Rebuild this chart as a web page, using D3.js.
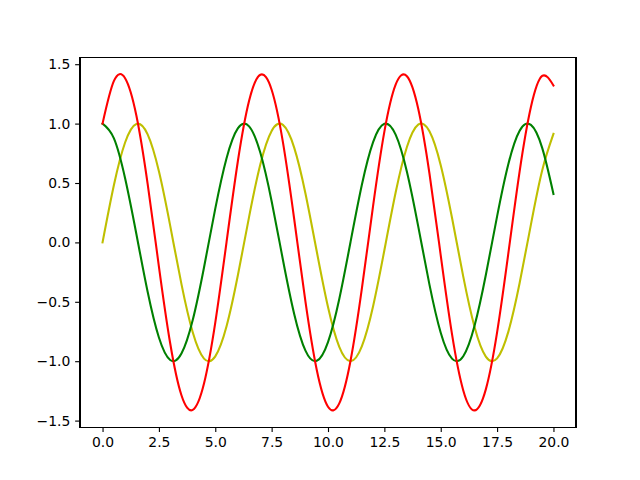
<!DOCTYPE html>
<html>
<head>
<meta charset="utf-8">
<script src="https://cdn.jsdelivr.net/npm/d3@7"></script>
<style>
  html, body { margin: 0; padding: 0; background: #fff; }
  svg { display: block; }
  .tick text { font-family: "DejaVu Sans", sans-serif; font-size: 13.9px; fill: #000; }
</style>
</head>
<body>
<svg id="chart" width="640" height="480"></svg>
<script>
// x sample positions
const xs = [0,0.5,1,1.5,2,2.5,3,3.5,4,4.5,5,5.5,6,6.5,7,7.5,8,8.5,9,9.5,10,
            10.5,11,11.5,12,12.5,13,13.5,14,14.5,15,15.5,16,16.5,17,17.5,18,18.5,19,19.5,20];
// yellow series
const ySin = [0,0.479,0.841,0.997,0.909,0.598,0.141,-0.351,-0.757,-0.978,-0.959,
              -0.706,-0.279,0.215,0.657,0.938,0.989,0.798,0.412,-0.075,-0.544,
              -0.880,-1.000,-0.875,-0.537,-0.066,0.420,0.803,0.991,0.935,0.650,
              0.207,-0.288,-0.712,-0.961,-0.976,-0.751,-0.342,0.150,0.606,0.913];
// green series
const yCos = [1,0.878,0.540,0.071,-0.416,-0.801,-0.990,-0.936,-0.654,-0.211,0.284,
              0.709,0.960,0.977,0.754,0.347,-0.146,-0.602,-0.911,-0.997,-0.839,
              -0.476,0.004,0.483,0.844,0.998,0.907,0.595,0.137,-0.355,-0.760,
              -0.978,-0.958,-0.702,-0.275,0.219,0.660,0.940,0.989,0.796,0.408];
// red series
const ySum = [1.000,1.357,1.382,1.068,0.493,-0.203,-0.849,-1.287,-1.410,-1.188,-0.675,
              0.003,0.681,1.192,1.411,1.285,0.844,0.197,-0.499,-1.072,-1.383,
              -1.355,-0.996,-0.392,0.307,0.932,1.328,1.399,1.127,0.580,-0.109,
              -0.772,-1.246,-1.414,-1.237,-0.757,-0.091,0.598,1.139,1.401,1.321];

const xTicks = [0,2.5,5,7.5,10,12.5,15,17.5,20];
const yTicks = [-1.5,-1.0,-0.5,0.0,0.5,1.0,1.5];

const series = [
  {name: "sin", values: ySin, color: "#bfbf00"},
  {name: "cos", values: yCos, color: "#008000"},
  {name: "sum", values: ySum, color: "#ff0000"}
];

(function () {
const svg = d3.select("#chart");
const mLeft = 80, mRight = 576, mTop = 57.6, mBottom = 427.2;

const x = d3.scaleLinear().domain([-1, 21]).range([mLeft, mRight]);
const y = d3.scaleLinear().domain([-1.5556, 1.5556]).range([mBottom, mTop]);

svg.append("rect").attr("width", 640).attr("height", 480).attr("fill", "#fff");

const line = d3.line().curve(d3.curveNatural);

const g = svg.append("g");
series.forEach(s => {
  g.append("path")
    .attr("d", line(xs.map((v, i) => [x(v), y(s.values[i])])))
    .attr("fill", "none")
    .attr("stroke", s.color)
    .attr("stroke-width", 2.08)
    .attr("stroke-linejoin", "round")
    .attr("stroke-linecap", "square");
});

const tick = 4.86, pad = 4.86;
const xAxis = svg.append("g").attr("transform", `translate(0,${mBottom})`)
  .call(d3.axisBottom(x).tickValues(xTicks).tickFormat(d3.format(".1f"))
    .tickSize(tick).tickPadding(pad).tickSizeOuter(0));
const yAxis = svg.append("g").attr("transform", `translate(${mLeft},0)`)
  .call(d3.axisLeft(y).tickValues(yTicks).tickFormat(d3.format(".1f"))
    .tickSize(tick).tickPadding(pad).tickSizeOuter(0));
[xAxis, yAxis].forEach(a => {
  a.select(".domain").remove();
  a.selectAll(".tick line").attr("stroke", "#000").attr("stroke-width", 1.11);
  a.attr("font-family", null).attr("font-size", null);
});

svg.append("rect")
  .attr("x", mLeft).attr("y", mTop)
  .attr("width", mRight - mLeft).attr("height", mBottom - mTop)
  .attr("fill", "none").attr("stroke", "#000").attr("stroke-width", 1.11)
  .attr("shape-rendering", "crispEdges");
})();
</script>
</body>
</html>
